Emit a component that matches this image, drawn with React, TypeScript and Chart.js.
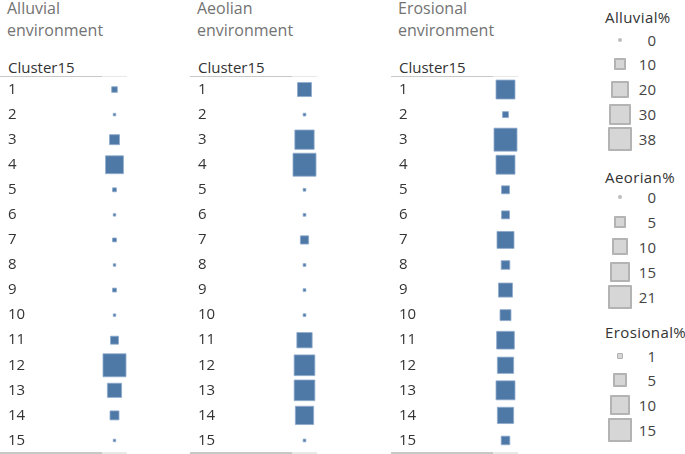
import React, { useEffect, useRef } from 'react';
import { Chart, registerables } from 'chart.js';

Chart.register(...registerables);

const clusters = ['1', '2', '3', '4', '5', '6', '7', '8', '9', '10', '11', '12', '13', '14', '15'];
const alluvialPct = [2.3, 0.3, 7.2, 23, 1.1, 0.3, 1.1, 0.3, 1.1, 0.3, 4.6, 38, 14.5, 5.8, 0.3];
const aeolianPct = [7.8, 0.3, 14.8, 21, 0.3, 0.3, 2.7, 0.3, 0.3, 0.3, 9.3, 17, 17, 13.3, 0.3];
const erosionalPct = [10.2, 1.0, 15, 10.2, 1.8, 1.8, 8.2, 2.1, 5.6, 3.4, 8.9, 7.5, 10.2, 7.5, 2.1];

const alluvialLegend = [0, 10, 20, 30, 38];
const aeolianLegend = [0, 5, 10, 15, 21];
const erosionalLegend = [1, 5, 10, 15];

const FONT = '"Open Sans", "Noto Sans", sans-serif';
const MARK = '#4e79a7';

function markSide(v: number, max: number) {
  return Math.max(2.5, 23 * Math.sqrt(v / max));
}

function legendSide(v: number, max: number) {
  return Math.max(4, 24 * Math.sqrt(v / max));
}

type PanelProps = { left: number; title: string[]; values: number[]; max: number };

function Panel({ left, title, values, max }: PanelProps) {
  const ref = useRef<HTMLCanvasElement | null>(null);
  useEffect(() => {
    if (!ref.current) return;
    const chart = new Chart(ref.current, {
      type: 'scatter',
      data: {
        datasets: [
          {
            data: values.map((v, i) => ({ x: 0.5, y: clusters[i], v })) as any,
            pointStyle: 'rect',
            pointRadius: (ctx: any) => markSide(ctx.raw.v, max) / Math.SQRT2,
            pointHoverRadius: (ctx: any) => markSide(ctx.raw.v, max) / Math.SQRT2,
            backgroundColor: MARK,
            borderColor: '#8fabcb',
            borderWidth: 0.8,
            clip: false,
          } as any,
        ],
      },
      options: {
        animation: false,
        responsive: false,
        maintainAspectRatio: false,
        events: [],
        layout: { autoPadding: false, padding: { left: 8, right: 0, top: 0, bottom: 0 } },
        plugins: { legend: { display: false }, tooltip: { enabled: false } },
        scales: {
          x: { type: 'linear', min: 0, max: 1, display: false },
          y: {
            type: 'category',
            labels: clusters,
            offset: true,
            position: 'left',
            grid: { display: false },
            border: { display: false },
            ticks: {
              autoSkip: false,
              crossAlign: 'far',
              font: { family: FONT, size: 15 },
              color: '#333333',
              padding: 0,
            },
            afterFit: (s: any) => {
              s.width = 94;
              s.paddingTop = 0;
              s.paddingBottom = 0;
            },
          } as any,
        },
      },
    });
    return () => chart.destroy();
  }, []);

  return (
    <>
      <div
        style={{
          position: 'absolute',
          left: left + 7,
          top: -3,
          fontFamily: FONT,
          fontSize: 16,
          lineHeight: '22px',
          color: '#737373',
          whiteSpace: 'nowrap',
        }}
      >
        {title[0]}
        <br />
        {title[1]}
      </div>
      <div
        style={{
          position: 'absolute',
          left: left + 8,
          top: 56.5,
          fontFamily: FONT,
          fontSize: 15,
          lineHeight: '20px',
          color: '#333333',
        }}
      >
        Cluster15
      </div>
      <div style={{ position: 'absolute', left, top: 76, width: 102, height: 1, background: '#c8c8c8' }} />
      <div style={{ position: 'absolute', left: left + 102, top: 76, width: 25, height: 1, background: '#e8e8e8' }} />
      <canvas
        ref={ref}
        width={127}
        height={376}
        style={{ position: 'absolute', left, top: 77, width: 127, height: 376, display: 'block' }}
      />
      <div style={{ position: 'absolute', left, top: 452, width: 102, height: 2, background: '#c8c8c8' }} />
      <div style={{ position: 'absolute', left: left + 102, top: 452, width: 25, height: 2, background: '#e8e8e8' }} />
    </>
  );
}

type LegendProps = { top: number; title: string; values: number[]; itemTops: number[] };

function SizeLegend({ top, title, values, itemTops }: LegendProps) {
  const max = values[values.length - 1];
  return (
    <>
      <div
        style={{
          position: 'absolute',
          left: 605,
          top: top,
          fontFamily: FONT,
          fontSize: 15,
          letterSpacing: '0.4px',
          lineHeight: '20px',
          color: '#333333',
          whiteSpace: 'nowrap',
        }}
      >
        {title}
      </div>
      {values.map((v, i) => {
        const s = legendSide(v, max);
        const zero = v === 0;
        return (
          <React.Fragment key={i}>
            <div
              style={{
                position: 'absolute',
                left: 620 - s / 2,
                top: itemTops[i] - s / 2,
                width: s,
                height: s,
                boxSizing: 'border-box',
                background: zero ? '#bdbdbd' : '#d6d6d6',
                border: zero ? 'none' : s < 8 ? '1.5px solid #b0b0b0' : '2px solid #b3b3b3',
                borderRadius: zero ? '50%' : 1,
              }}
            />
            <div
              style={{
                position: 'absolute',
                left: 626,
                width: 30,
                textAlign: 'right',
                top: itemTops[i] - 10,
                fontFamily: FONT,
                fontSize: 15,
                lineHeight: '20px',
                color: '#444444',
              }}
            >
              {v}
            </div>
          </React.Fragment>
        );
      })}
    </>
  );
}

export default function App() {
  return (
    <div style={{ position: 'absolute', left: 0, top: 0, width: 685, height: 454, background: '#ffffff', overflow: 'hidden' }}>
      <Panel left={0} title={['Alluvial', 'environment']} values={alluvialPct} max={38} />
      <Panel left={190} title={['Aeolian', 'environment']} values={aeolianPct} max={21} />
      <Panel left={391} title={['Erosional', 'environment']} values={erosionalPct} max={15} />
      <SizeLegend top={7} title="Alluvial%" values={alluvialLegend} itemTops={[40, 64.3, 89.3, 114.3, 139.3]} />
      <SizeLegend top={167} title="Aeorian%" values={aeolianLegend} itemTops={[197.3, 221.7, 246.7, 271.7, 296.7]} />
      <SizeLegend top={322} title="Erosional%" values={erosionalLegend} itemTops={[356, 380, 405, 430]} />
    </div>
  );
}
